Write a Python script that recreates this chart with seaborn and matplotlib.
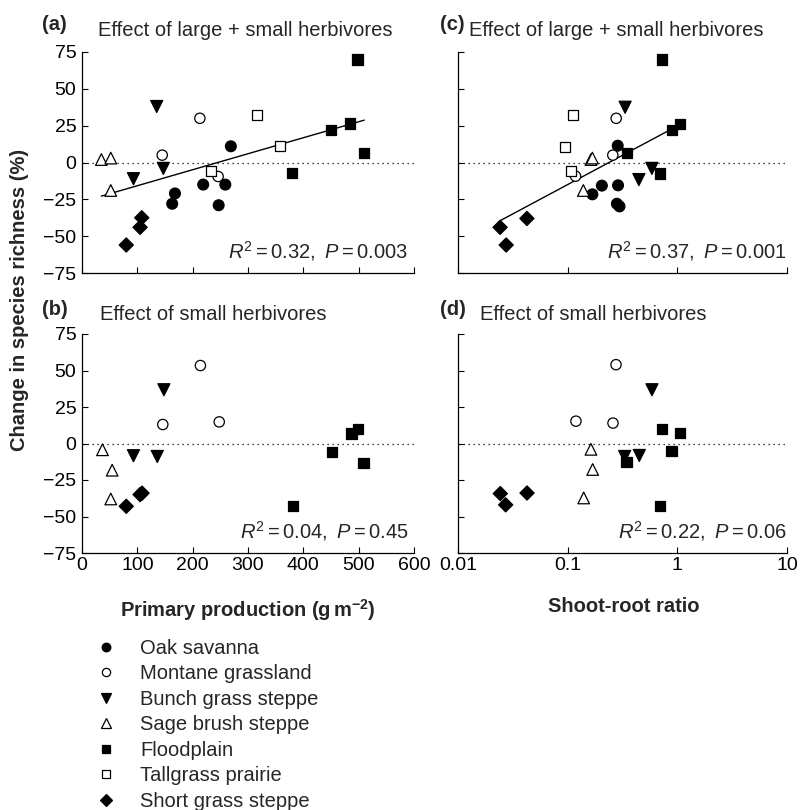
import numpy as np
import pandas as pd
import matplotlib
matplotlib.use("Agg")
import matplotlib.pyplot as plt
import seaborn as sns
from matplotlib.lines import Line2D
from matplotlib.ticker import NullLocator, FixedLocator, FixedFormatter

# ---------------- data ----------------
habitats = ["Oak savanna", "Montane grassland", "Bunch grass steppe",
            "Sage brush steppe", "Floodplain", "Tallgrass prairie",
            "Short grass steppe"]

# (a) Primary production vs change, large + small herbivores
a_site = (["Oak savanna"] * 6 + ["Montane grassland"] * 3 + ["Bunch grass steppe"] * 3
          + ["Sage brush steppe"] * 3 + ["Floodplain"] * 5 + ["Tallgrass prairie"] * 3
          + ["Short grass steppe"] * 3)
a_x = [269, 163, 168, 219, 259, 247,
       213, 145, 246,
       135, 93, 147,
       35, 52, 52,
       380, 450, 484, 498, 510,
       233, 316, 358,
       80, 105, 108]
a_y = [11, -28, -21, -15, -15, -29,
       30, 5, -9.5,
       38, -11, -4,
       2, 3, -19,
       -7, 22, 26.5, 70, 6.5,
       -6, 32.5, 11,
       -56, -44, -37.5]

# (c) Shoot-root ratio vs change, large + small herbivores
c_site = a_site
c_x = [0.286, 0.168, 0.205, 0.288, 0.281, 0.297,
       0.277, 0.258, 0.118,
       0.334, 0.586, 0.446,
       0.163, 0.168, 0.139,
       0.70, 0.89, 1.06, 0.73, 0.35,
       0.107, 0.111, 0.094,
       0.0242, 0.0275, 0.0425]
c_y = [11.4, -21.6, -15.7, -15.5, -28, -29.8,
       30, 5, -9.3,
       37.5, -4, -11.6,
       2, 3, -19,
       -7.5, 22, 26, 70, 6.6,
       -5.9, 32, 10.7,
       -44, -56, -38]

# (b) Primary production vs change, small herbivores
b_site = (["Montane grassland"] * 3 + ["Bunch grass steppe"] * 3 + ["Sage brush steppe"] * 3
          + ["Floodplain"] * 5 + ["Short grass steppe"] * 3)
b_x = [214, 146, 248,
       148, 93, 136,
       37, 54.5, 52,
       381, 452, 487, 499, 509,
       80, 105, 108.5]
b_y = [53.4, 13, 14.8,
       36.8, -8.4, -8.9,
       -4.3, -18.3, -38,
       -43, -5.7, 6.8, 9.8, -13.5,
       -43, -35, -34]

# (d) Shoot-root ratio vs change, small herbivores
d_site = b_site
d_x = [0.276, 0.119, 0.259,
       0.587, 0.331, 0.45,
       0.163, 0.169, 0.14,
       0.70, 0.887, 0.724, 1.05, 0.345,
       0.0272, 0.0243, 0.0426]
d_y = [54, 15.3, 14,
       36.8, -8.9, -8.2,
       -4, -17.8, -37.3,
       -42.6, -5, 10, 7, -12.8,
       -42, -34.3, -33.9]

stats_text = {"a": ("0.32", "0.003"), "b": ("0.04", "0.45"),
              "c": ("0.37", "0.001"), "d": ("0.22", "0.06")}
panel_titles = {"a": "Effect of large + small herbivores",
                "b": "Effect of small herbivores",
                "c": "Effect of large + small herbivores",
                "d": "Effect of small herbivores"}
y_ticks = [-75, -50, -25, 0, 25, 50, 75]
prod_ticks = [0, 100, 200, 300, 400, 500, 600]
ratio_ticks = [0.01, 0.1, 1, 10]
ratio_labels = ["0.01", "0.1", "1", "10"]

# ---------------- style ----------------
sns.set_theme(style="ticks")
plt.rcParams["font.family"] = ["Liberation Sans", "DejaVu Sans"]
plt.rcParams["mathtext.fontset"] = "custom"
plt.rcParams["mathtext.rm"] = "Liberation Sans"
plt.rcParams["mathtext.it"] = "Liberation Sans:italic"
plt.rcParams["mathtext.bf"] = "Liberation Sans:bold"

markers = {"Oak savanna": "o", "Montane grassland": "o", "Bunch grass steppe": "v",
           "Sage brush steppe": "^", "Floodplain": "s", "Tallgrass prairie": "s",
           "Short grass steppe": "D"}
faces = {"Oak savanna": "black", "Montane grassland": "white", "Bunch grass steppe": "black",
         "Sage brush steppe": "white", "Floodplain": "black", "Tallgrass prairie": "white",
         "Short grass steppe": "black"}
sizes = {"Oak savanna": 60, "Montane grassland": 55, "Bunch grass steppe": 75,
         "Sage brush steppe": 70, "Floodplain": 55, "Tallgrass prairie": 50,
         "Short grass steppe": 52}

FS = 14.5
W, H = 802, 810
fig = plt.figure(figsize=(W / 100, H / 100), dpi=100)

ax_a = fig.add_axes([82 / W, 1 - 273 / H, 332 / W, 221 / H])
ax_c = fig.add_axes([458 / W, 1 - 273 / H, 329 / W, 221 / H])
ax_b = fig.add_axes([82 / W, 1 - 553 / H, 332 / W, 219 / H])
ax_d = fig.add_axes([458 / W, 1 - 553 / H, 329 / W, 219 / H])

panels = {"a": (ax_a, a_site, a_x, a_y, False),
          "c": (ax_c, c_site, c_x, c_y, True),
          "b": (ax_b, b_site, b_x, b_y, False),
          "d": (ax_d, d_site, d_x, d_y, True)}

for key, (ax, site, xs, ys, logx) in panels.items():
    df = pd.DataFrame({"x": xs, "y": ys, "habitat": site})
    if logx:
        ax.set_xscale("log")
    ax.axhline(0, color="black", lw=0.9, ls=(0, (1, 3)), zorder=1)
    if key in ("a", "c"):
        sns.regplot(data=df, x="x", y="y", scatter=False, ci=None, truncate=True,
                    logx=logx, color="black", line_kws={"lw": 1.0}, ax=ax)
    sns.scatterplot(data=df, x="x", y="y", hue="habitat", style="habitat", size="habitat",
                    palette=faces, markers=markers, sizes=sizes,
                    edgecolor="black", linewidth=0.9, legend=False, ax=ax, zorder=3)
    ax.set_xlabel("")
    ax.set_ylabel("")
    ax.set_ylim(-75, 75)
    ax.yaxis.set_major_locator(FixedLocator(y_ticks))
    if logx:
        ax.set_xlim(0.01, 10)
        ax.xaxis.set_major_locator(FixedLocator(ratio_ticks))
        ax.xaxis.set_major_formatter(FixedFormatter(ratio_labels))
        ax.xaxis.set_minor_locator(NullLocator())
    else:
        ax.set_xlim(0, 600)
        ax.xaxis.set_major_locator(FixedLocator(prod_ticks))
    ax.tick_params(direction="in", length=4.5, width=0.8, labelsize=14, pad=4,
                   color="black", labelcolor="black")
    ax.tick_params(axis="x", pad=3)
    if key in ("a", "c"):
        ax.tick_params(axis="x", labelbottom=False)
    if key in ("c", "d"):
        ax.tick_params(axis="y", labelleft=False)
    for s in ("top", "right"):
        ax.spines[s].set_visible(False)
    for s in ("left", "bottom"):
        ax.spines[s].set_color("black")
        ax.spines[s].set_linewidth(0.9)
    r2, p = stats_text[key]
    xr = 0.982 if key in ("a", "b") else 1.0
    ax.text(xr, 0.068, r"$\mathit{R}^{2}=%s,\ \mathit{P}=%s$" % (r2, p),
            transform=ax.transAxes, ha="right", va="baseline", fontsize=FS)

# panel labels and titles
lab_pos = {"a": (42, 24, 98, 30), "c": (440, 24, 469, 30),
           "b": (42, 309, 100, 315), "d": (440, 309, 480, 315)}
for key, (lx, ly, tx, ty) in lab_pos.items():
    fig.text(lx / W, 1 - ly / H, "(%s)" % key, fontsize=FS, fontweight="bold",
             ha="left", va="center")
    fig.text(tx / W, 1 - ty / H, panel_titles[key], fontsize=FS, ha="left", va="center")

fig.text(20 / W, 1 - 300 / H, "Change in species richness (%)", rotation=90,
         fontsize=FS, fontweight="bold", ha="center", va="center")
fig.text(248 / W, 1 - 610 / H, r"Primary production (g$\,$m$^{\mathbf{-2}}$)",
         fontsize=FS, fontweight="bold", ha="center", va="center")
fig.text(624 / W, 1 - 606 / H, "Shoot-root ratio",
         fontsize=FS, fontweight="bold", ha="center", va="center")

# legend
handles = [Line2D([], [], ls="none", marker=markers[h], markerfacecolor=faces[h],
                  markeredgecolor="black", markeredgewidth=0.9, color="black",
                  markersize=np.sqrt(sizes[h]) * 0.8)
           for h in habitats]
fig.legend(handles, habitats, loc="upper left",
           bbox_to_anchor=(96 / W, 1 - 639 / H), frameon=False, fontsize=FS,
           handlelength=1.0, handletextpad=1.2, labelspacing=0.32,
           borderpad=0, borderaxespad=0)

fig.savefig("out.png", dpi=100)
